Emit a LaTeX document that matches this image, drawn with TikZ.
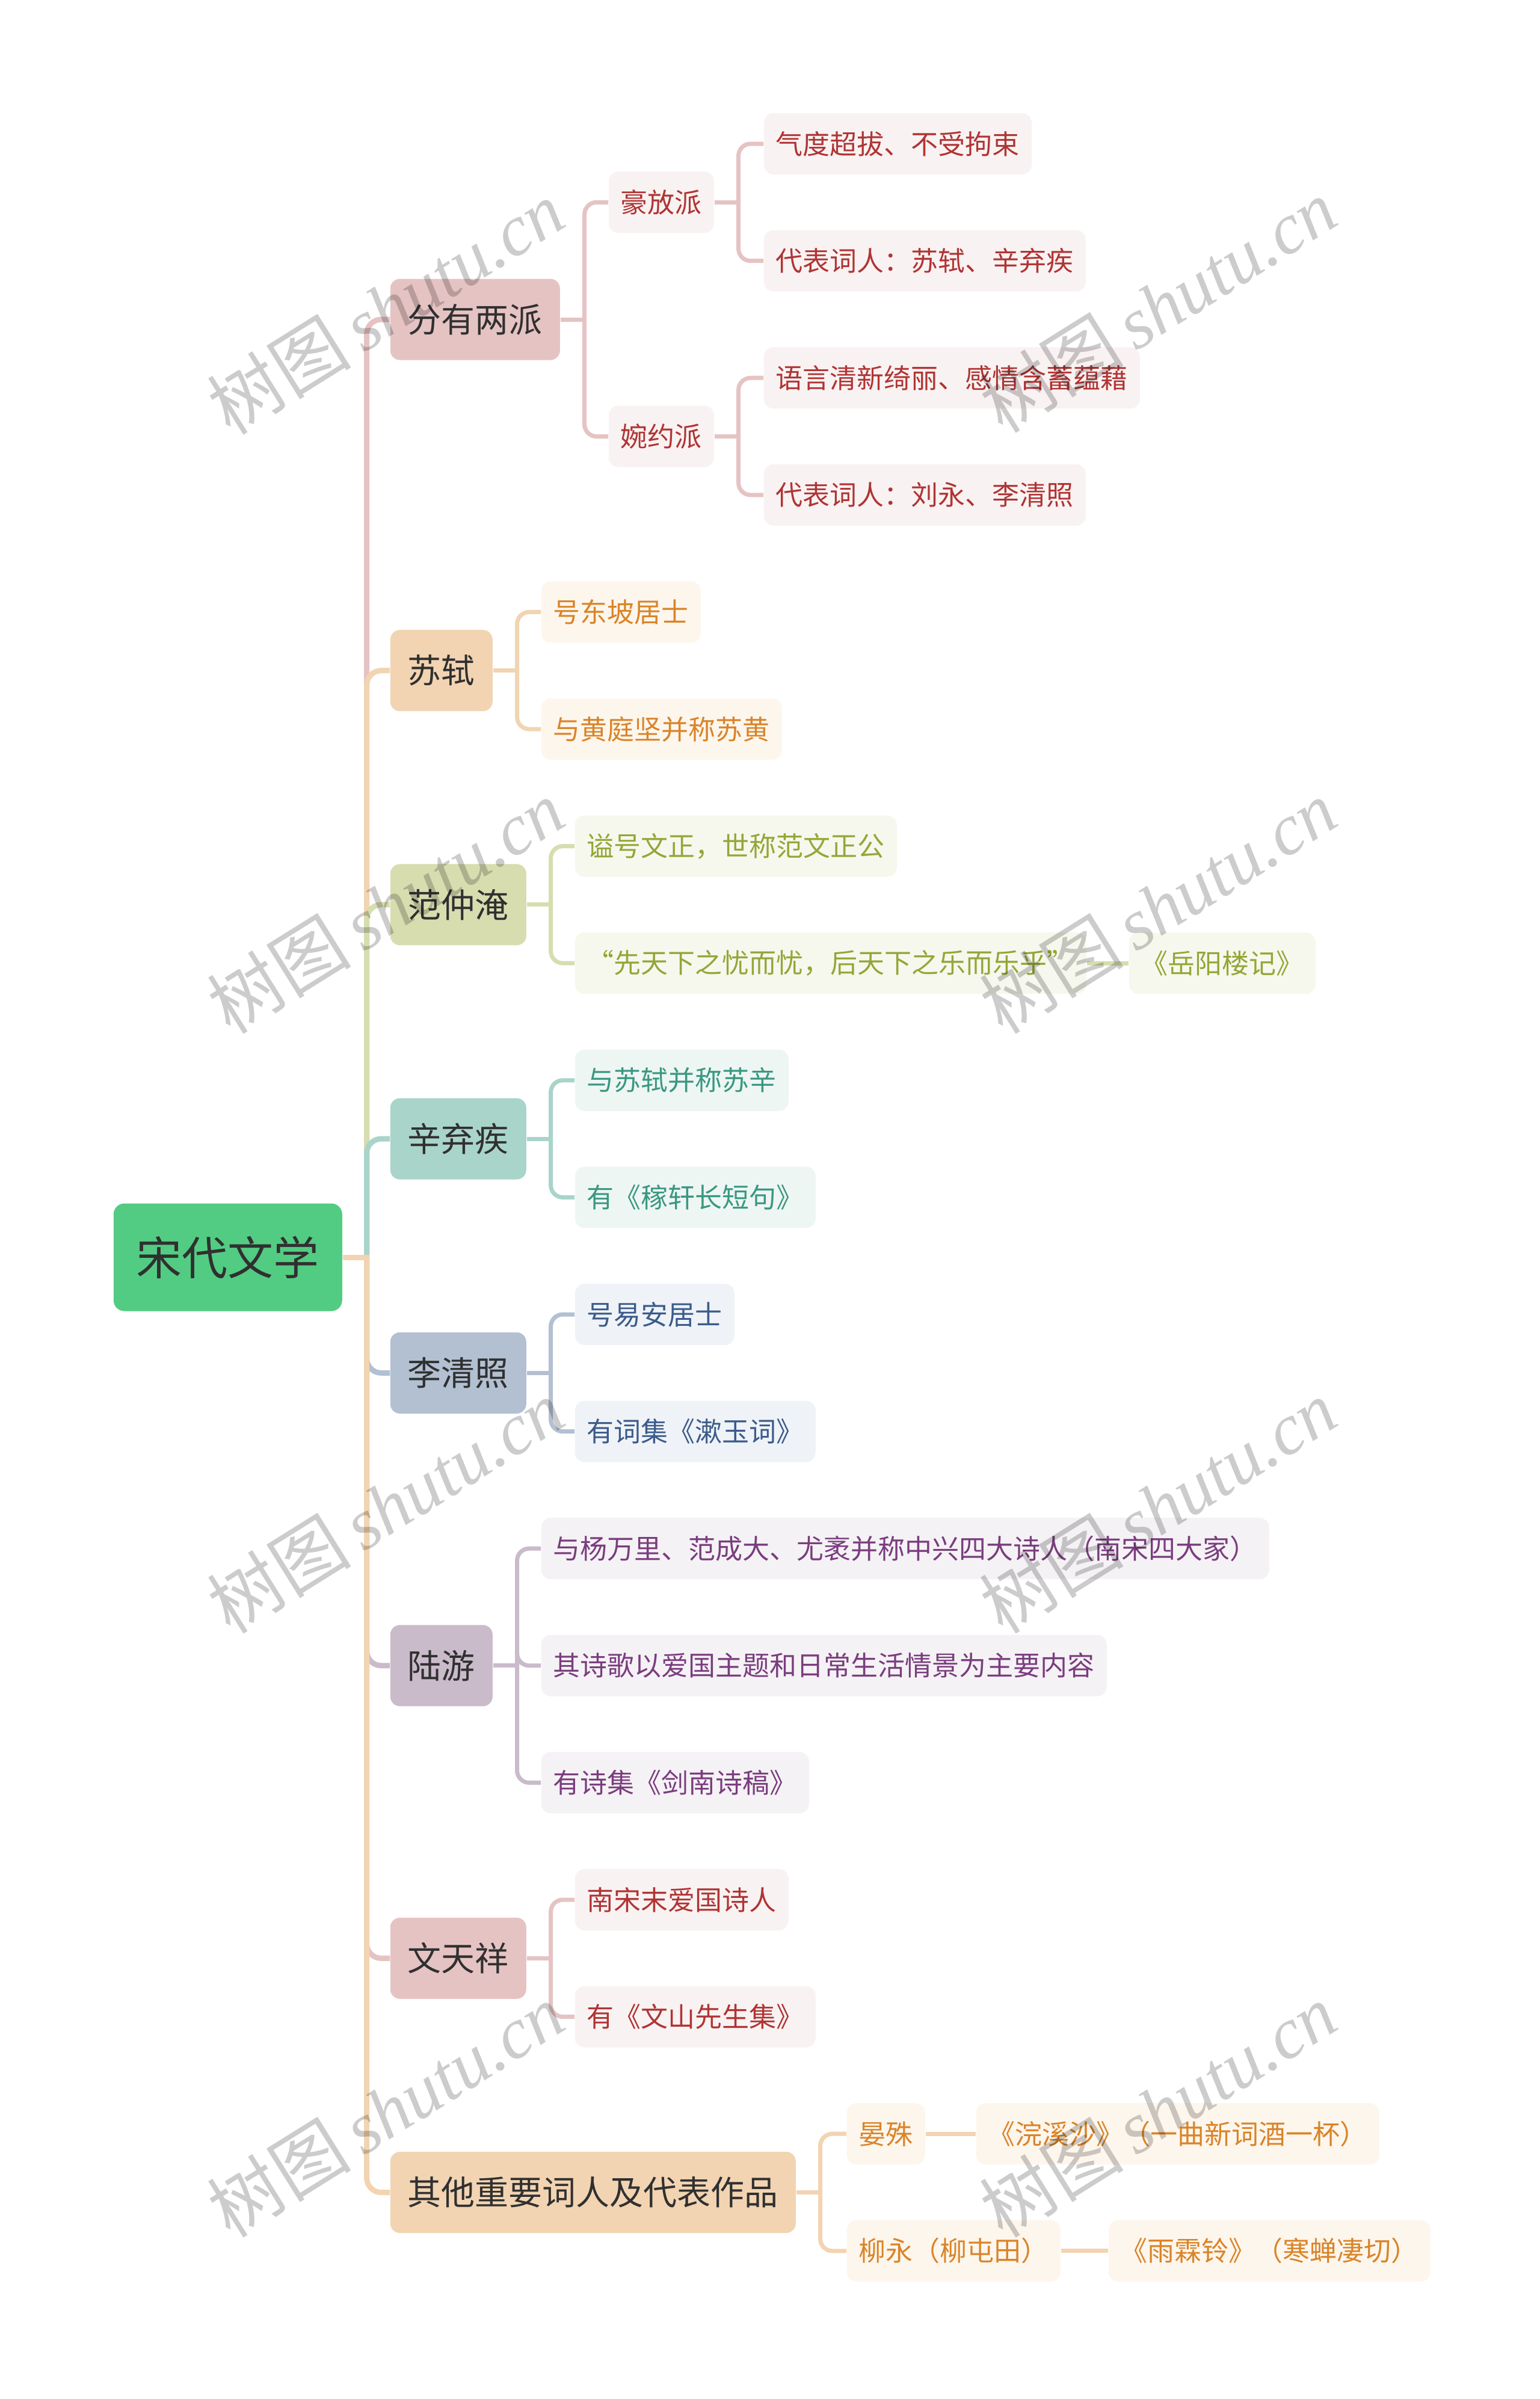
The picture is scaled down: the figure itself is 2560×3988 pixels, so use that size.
\documentclass[tikz,border=0pt]{standalone}
\usepackage{fontspec}
\newfontfamily\cjk{Noto Sans CJK SC}
\newfontfamily\wmserif{Liberation Serif}
\usetikzlibrary{backgrounds}
\definecolor{rootgreen}{HTML}{52CC82}
\definecolor{darktext}{HTML}{303030}
\definecolor{pinkA}{HTML}{E6C3C3}
\definecolor{pinkB}{HTML}{F9F2F2}
\definecolor{pinkT}{HTML}{B03434}
\definecolor{tanA}{HTML}{F2D4B2}
\definecolor{tanB}{HTML}{FDF6ED}
\definecolor{tanT}{HTML}{DA8428}
\definecolor{oliveA}{HTML}{D8DDB0}
\definecolor{oliveB}{HTML}{F6F8EE}
\definecolor{oliveT}{HTML}{95A637}
\definecolor{tealA}{HTML}{A9D4C9}
\definecolor{tealB}{HTML}{EEF6F4}
\definecolor{tealT}{HTML}{3A9880}
\definecolor{blueA}{HTML}{B2C0D2}
\definecolor{blueB}{HTML}{EFF3F7}
\definecolor{blueT}{HTML}{3B5B8A}
\definecolor{purpA}{HTML}{CABBCB}
\definecolor{purpB}{HTML}{F5F2F5}
\definecolor{purpT}{HTML}{7A3D7E}
\begin{document}
\begin{tikzpicture}[x=0.25pt,y=-0.25pt,
  rootbox/.style={rounded corners=4.5pt, fill=rootgreen, text=darktext,
    font=\cjk\fontsize{19pt}{19pt}\selectfont, inner xsep=9.5pt, inner ysep=0pt,
    minimum height=44.75pt, anchor=west},
  mainbox/.style={rounded corners=4pt, text=darktext,
    font=\cjk\fontsize{14pt}{14pt}\selectfont, inner xsep=7.25pt, inner ysep=0pt,
    minimum height=33.75pt, anchor=west},
  leafbox/.style={rounded corners=4pt,
    font=\cjk\fontsize{11.25pt}{11.25pt}\selectfont, inner xsep=5pt, inner ysep=0pt,
    minimum height=25.5pt, anchor=west},
  pinkleaf/.style={leafbox, fill=pinkB, text=pinkT},
  tanleaf/.style={leafbox, fill=tanB, text=tanT},
  oliveleaf/.style={leafbox, fill=oliveB, text=oliveT},
  tealleaf/.style={leafbox, fill=tealB, text=tealT},
  blueleaf/.style={leafbox, fill=blueB, text=blueT},
  purpleaf/.style={leafbox, fill=purpB, text=purpT},
  rootline/.style={line width=2.25pt},
  subline/.style={line width=1.75pt},
  watermark/.style={text=black, text opacity=0.2, rotate=32, inner sep=0pt,
    font=\fontsize{30pt}{30pt}\selectfont},
]
\useasboundingbox (0,0) rectangle (2560,3988);

% root
\node[rootbox] (root) at (188,2090) {宋代文学};

% branch 1
\node[mainbox, fill=pinkA] (a) at (648,531) {分有两派};
\node[pinkleaf] (a1) at (1011,336.3) {豪放派};
\node[pinkleaf] (a2) at (1011,725.5) {婉约派};
\node[pinkleaf] (a11) at (1269,239) {气度超拔、不受拘束};
\node[pinkleaf] (a12) at (1269,433.6) {代表词人：苏轼、辛弃疾};
\node[pinkleaf] (a21) at (1269,628.2) {语言清新绮丽、感情含蓄蕴藉};
\node[pinkleaf] (a22) at (1269,822.8) {代表词人：刘永、李清照};

% branch 2
\node[mainbox, fill=tanA] (b) at (648,1114.7) {苏轼};
\node[tanleaf] (b1) at (899,1017.4) {号东坡居士};
\node[tanleaf] (b2) at (899,1212) {与黄庭坚并称苏黄};

% branch 3
\node[mainbox, fill=oliveA] (c) at (648,1503.9) {范仲淹};
\node[oliveleaf] (c1) at (955,1406.6) {谥号文正，世称范文正公};
\node[oliveleaf] (c2) at (955,1601.2) {“先天下之忧而忧，后天下之乐而乐乎”};
\node[oliveleaf] (c3) at (1876,1601.2) {《岳阳楼记》};

% branch 4
\node[mainbox, fill=tealA] (d) at (648,1893.1) {辛弃疾};
\node[tealleaf] (d1) at (955,1795.8) {与苏轼并称苏辛};
\node[tealleaf] (d2) at (955,1990.4) {有《稼轩长短句》};

% branch 5
\node[mainbox, fill=blueA] (e) at (648,2282.3) {李清照};
\node[blueleaf] (e1) at (955,2185) {号易安居士};
\node[blueleaf] (e2) at (955,2379.6) {有词集《漱玉词》};

% branch 6
\node[mainbox, fill=purpA] (f) at (648,2768.8) {陆游};
\node[purpleaf] (f1) at (899,2574.2) {与杨万里、范成大、尤袤并称中兴四大诗人（南宋四大家）};
\node[purpleaf] (f2) at (899,2768.8) {其诗歌以爱国主题和日常生活情景为主要内容};
\node[purpleaf] (f3) at (899,2963.4) {有诗集《剑南诗稿》};

% branch 7
\node[mainbox, fill=pinkA] (g) at (648,3255.3) {文天祥};
\node[pinkleaf] (g1) at (955,3158) {南宋末爱国诗人};
\node[pinkleaf] (g2) at (955,3352.6) {有《文山先生集》};

% branch 8
\node[mainbox, fill=tanA] (h) at (648,3644.5) {其他重要词人及代表作品};
\node[tanleaf] (h1) at (1407,3547.2) {晏殊};
\node[tanleaf] (h11) at (1622,3547.2) {《浣溪沙》（一曲新词酒一杯）};
\node[tanleaf] (h2) at (1407,3741.8) {柳永（柳屯田）};
\node[tanleaf] (h21) at (1842,3741.8) {《雨霖铃》（寒蝉凄切）};

\begin{scope}[on background layer]
\fill[white] (0,0) rectangle (2560,3988);
% root connectors (drawn top to bottom)
\coordinate (rt) at ([xshift=10pt]root.east);
\foreach \n/\c in {a/pinkA,b/tanA,c/oliveA,d/tealA,e/blueA,f/purpA,g/pinkA,h/tanA}{
  \draw[rootline, \c, rounded corners=6pt] (rt) |- (\n.west);
}
\draw[rootline, tanA] (root.east) -- ([xshift=1.125pt]rt);

% second level connectors
\foreach \p/\c/\kids in {a/pinkA/{a1,a2}, a1/pinkA/{a11,a12}, a2/pinkA/{a21,a22},
    b/tanA/{b1,b2}, c/oliveA/{c1,c2}, d/tealA/{d1,d2}, e/blueA/{e1,e2},
    f/purpA/{f1,f2,f3}, g/pinkA/{g1,g2}, h/tanA/{h1,h2}}{
  \draw[subline, \c] (\p.east) -- ([xshift=10.875pt]\p.east);
  \foreach \k in \kids {
    \draw[subline, \c, rounded corners=5pt] ([xshift=10pt]\p.east) |- (\k.west);
  }
}
\draw[subline, oliveA] (c2.east) -- (c3.west);
\draw[subline, tanA] (h1.east) -- (h11.west);
\draw[subline, tanA] (h2.east) -- (h21.west);
\end{scope}

% watermarks
\foreach \wx/\wy [count=\i] in {641/511, 1925/508, 641/1507, 1925/1507,
    641/2504, 1925/2504, 641/3508, 1925/3508}{
  \node[watermark] (wm\i) at (\wx,\wy) {{\cjk 树图}\,{\wmserif\itshape shutu.cn}};
}
\end{tikzpicture}
\end{document}
